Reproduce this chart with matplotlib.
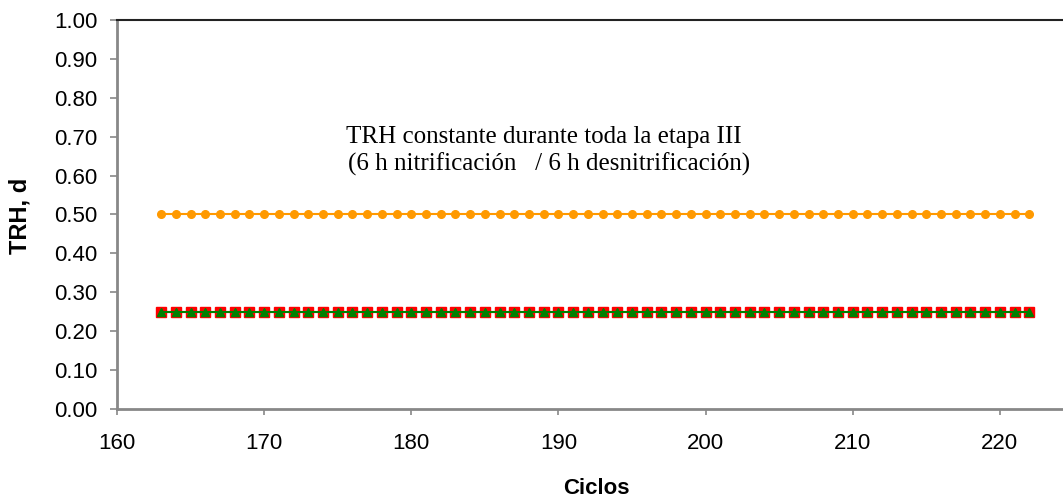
import matplotlib.pyplot as plt
import numpy as np

# TRH per cycle during stage III
ciclos = np.arange(163, 223)
trh_total = [0.50] * len(ciclos)
trh_nitrificacion = [0.25] * len(ciclos)
trh_desnitrificacion = [0.25] * len(ciclos)

yticks = np.arange(0, 1.01, 0.1)
xticks = np.arange(160, 230, 10)

plt.rcParams["font.family"] = ["Liberation Sans", "DejaVu Sans"]

fig = plt.figure(figsize=(10.63, 4.98), dpi=100)
# the axes runs past the right edge of the canvas
ax = fig.add_axes([117 / 1063, 89 / 498, 1030 / 1063, 389 / 498])

ax.plot(ciclos, trh_total, color="#FF9900", lw=1.5, marker="o",
        ms=5.5, mec="#FF9900", mfc="#FF9900", zorder=3)
ax.plot(ciclos, trh_nitrificacion, color="#FF0000", lw=1.5, marker="s",
        ms=7, mec="#FF0000", mfc="#FF0000", zorder=3)
ax.plot(ciclos, trh_desnitrificacion, color="#008000", lw=1.5, marker="^",
        ms=5.5, mec="#008000", mfc="#008000", zorder=4)

ax.set_xlim(160, 230)
ax.set_ylim(0, 1)
ax.set_xticks(xticks)
ax.set_yticks(yticks)
ax.set_yticklabels([f"{v:.2f}" for v in yticks])
ax.tick_params(labelsize=16, color="#888888", width=1.2)
ax.tick_params(axis="y", length=5, pad=9)
ax.tick_params(axis="x", length=4, pad=13)

for side in ["left", "bottom"]:
    ax.spines[side].set_color("#888888")
    ax.spines[side].set_linewidth(2)
ax.spines["top"].set_color("#222222")
ax.spines["top"].set_linewidth(1.5)
ax.spines["right"].set_visible(False)

ax.set_ylabel("TRH, d", fontsize=17, fontweight="bold")
ax.yaxis.set_label_coords(20 / 1063, 1 - 216 / 498, transform=fig.transFigure)
ax.yaxis.label.set_va("center")
fig.text(596 / 1063, 1 - 488 / 498, "Ciclos", fontsize=16,
         fontweight="bold", ha="center", va="center")

serif = ["Liberation Serif", "DejaVu Serif"]
fig.text(346 / 1063, 1 - 143 / 498, "TRH constante durante toda la etapa III",
         fontsize=18, family=serif, ha="left", va="baseline")
fig.text(348 / 1063, 1 - 171 / 498,
         "(6 h nitrificación   / 6 h desnitrificación)",
         fontsize=18, family=serif, ha="left", va="baseline")

fig.savefig("out.png", dpi=100)
